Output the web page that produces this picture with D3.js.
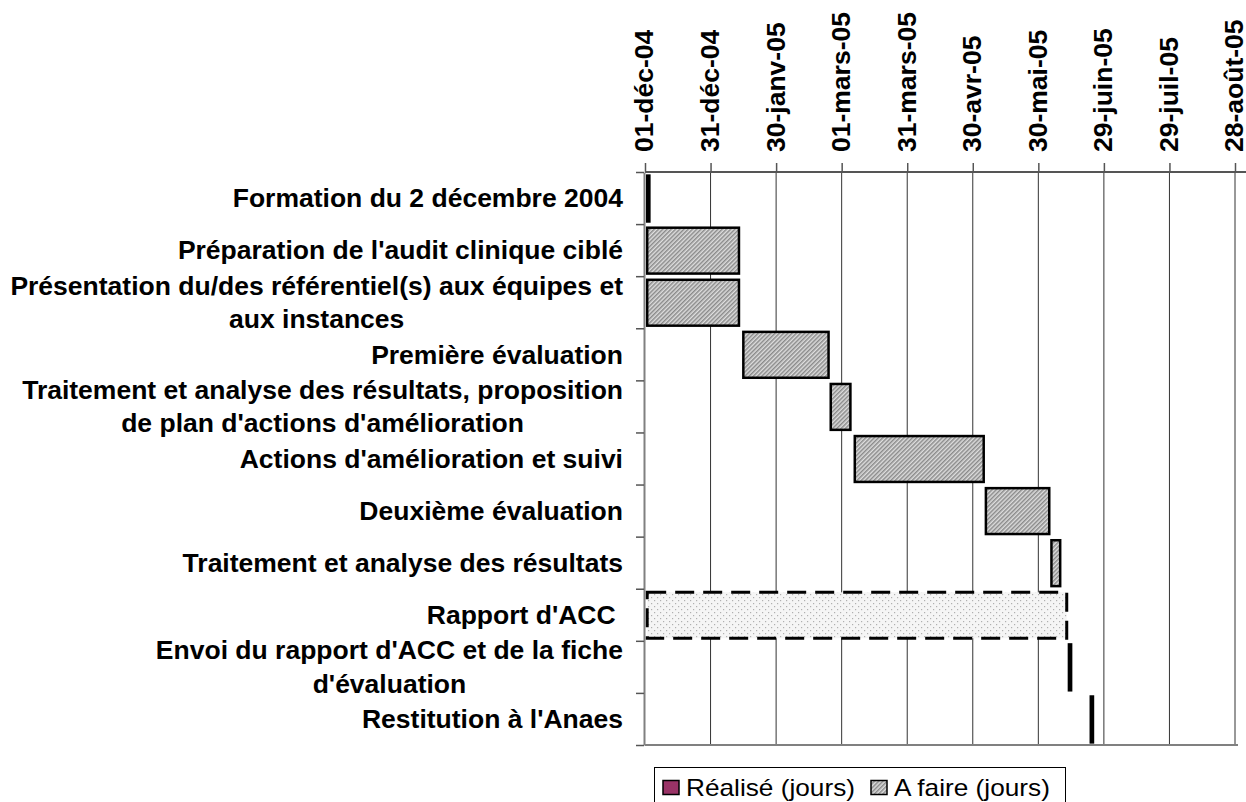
<!DOCTYPE html>
<html>
<head>
<meta charset="utf-8">
<script src="https://cdn.jsdelivr.net/npm/d3@7"></script>
<style>
  body { margin: 0; background: #fff; }
  text { font-family: "Liberation Sans", Arial, sans-serif; }
</style>
</head>
<body>
<script>
// tasks of the Gantt chart, top to bottom
const tasks = [
  "Formation du 2 décembre 2004",
  "Préparation de l'audit clinique ciblé",
  "Présentation du/des référentiel(s) aux équipes et\naux instances",
  "Première évaluation",
  "Traitement et analyse des résultats, proposition\nde plan d'actions d'amélioration",
  "Actions d'amélioration et suivi",
  "Deuxième évaluation",
  "Traitement et analyse des résultats",
  "Rapport d'ACC ",
  "Envoi du rapport d'ACC et de la fiche\nd'évaluation",
  "Restitution à l'Anaes"
];
const startDates = ["2004-12-02", "2004-12-02", "2004-12-02", "2005-01-15", "2005-02-24", "2005-03-07",
  "2005-05-06", "2005-06-05", "2004-12-02", "2005-06-13", "2005-06-23"];
const realises = [0, 0, 0, 0, 0, 0, 0, 0, 0, 0, 0];
const aFaire = [1, 42, 42, 39, 9, 59, 29, 4, 192, 1, 1];
const tickDates = ["2004-12-01", "2004-12-31", "2005-01-30", "2005-03-01", "2005-03-31",
  "2005-04-30", "2005-05-30", "2005-06-29", "2005-07-29", "2005-08-28"];
const tickLabels = ["01-déc-04", "31-déc-04", "30-janv-05", "01-mars-05", "31-mars-05",
  "30-avr-05", "30-mai-05", "29-juin-05", "29-juil-05", "28-août-05"];
const legendLabels = ["Réalisé (jours)", "A faire (jours)"];

const WIDTH = 1246, HEIGHT = 802;
const parse = d3.timeParse("%Y-%m-%d");
const day = 24 * 3600 * 1000;

const svg = d3.select("body").append("svg")
  .attr("width", WIDTH).attr("height", HEIGHT);

const defs = svg.append("defs");
const hatch = defs.append("pattern").attr("id", "hatch")
  .attr("width", 3).attr("height", 3).attr("patternUnits", "userSpaceOnUse")
  .attr("patternTransform", "rotate(45)");
hatch.append("rect").attr("width", 3).attr("height", 3).attr("fill", "#dedede");
hatch.append("line").attr("x1", 0.75).attr("x2", 0.75).attr("y1", 0).attr("y2", 3)
  .attr("stroke", "#8a8a8a").attr("stroke-width", 1.5);

const dots = defs.append("pattern").attr("id", "dots")
  .attr("width", 6).attr("height", 6).attr("patternUnits", "userSpaceOnUse");
dots.append("rect").attr("width", 6).attr("height", 6).attr("fill", "#f5f5f5");
dots.append("rect").attr("x", 0).attr("y", 0).attr("width", 1.2).attr("height", 1.2).attr("fill", "#b0b0b0");
dots.append("rect").attr("x", 3).attr("y", 3).attr("width", 1.2).attr("height", 1.2).attr("fill", "#b0b0b0");

const x = d3.scaleTime()
  .domain([parse(tickDates[0]), parse(tickDates[tickDates.length - 1])])
  .range([645, 1235]);
const y = d3.scaleBand()
  .domain(d3.range(tasks.length))
  .range([172, 745])
  .paddingInner(0.1).paddingOuter(0.05);
const yLin = d3.scaleLinear().domain([0, tasks.length]).range([172, 745]);

// vertical gridlines
svg.append("g").selectAll("line")
  .data(tickDates.slice(1))
  .enter().append("line")
  .attr("x1", d => x(parse(d))).attr("x2", d => x(parse(d)))
  .attr("y1", 172).attr("y2", 745)
  .attr("stroke", "#333").attr("stroke-width", 1);

// bottom border of plot
svg.append("line").attr("x1", 645).attr("x2", 1238).attr("y1", 745).attr("y2", 745)
  .attr("stroke", "#808080").attr("stroke-width", 2);

// bars : Réalisé then A faire, stacked from the start date
const rows = tasks.map((t, i) => {
  const s = parse(startDates[i]);
  const r = new Date(+s + realises[i] * day);
  const e = new Date(+r + aFaire[i] * day);
  return { i, s, r, e };
});

svg.append("g").selectAll("rect.real")
  .data(rows.filter(d => +d.r > +d.s))
  .enter().append("rect")
  .attr("x", d => x(d.s)).attr("width", d => x(d.r) - x(d.s))
  .attr("y", d => y(d.i)).attr("height", y.bandwidth())
  .attr("fill", "#993366").attr("stroke", "#000").attr("stroke-width", 2.5);

svg.append("g").selectAll("rect.todo")
  .data(rows)
  .enter().append("rect")
  .attr("x", d => x(d.r)).attr("width", d => x(d.e) - x(d.r))
  .attr("y", d => y(d.i) + 1).attr("height", y.bandwidth() - 1)
  .attr("fill", d => d.i === 8 ? "url(#dots)" : "url(#hatch)")
  .attr("stroke", "#000")
  .attr("stroke-width", d => d.i === 8 ? 3 : 2.5)
  .attr("stroke-dasharray", d => d.i === 8 ? "19,9" : null);

// top axis with rotated dates
const topAxis = svg.append("g").attr("transform", "translate(0,172)")
  .call(d3.axisTop(x)
    .tickValues(tickDates.map(parse))
    .tickSize(9).tickSizeOuter(0)
    .tickFormat((d, i) => tickLabels[i]));
topAxis.select(".domain").attr("stroke", "#555").attr("stroke-width", 2)
  .attr("d", "M645,0H1246");
topAxis.selectAll(".tick line").attr("stroke", "#555").attr("stroke-width", 1.5);
topAxis.selectAll(".tick text")
  .attr("x", 0).attr("y", 0).attr("dy", "0.3em")
  .attr("transform", "translate(0,-20) rotate(-90)")
  .attr("text-anchor", "start")
  .attr("font-size", 26.5).attr("font-weight", "bold").attr("fill", "#000");

// left axis: ticks between categories, no labels
const leftAxis = svg.append("g").attr("transform", "translate(644,0)")
  .call(d3.axisLeft(yLin).tickValues(d3.range(tasks.length + 1))
    .tickSize(8).tickSizeOuter(0).tickFormat(""));
leftAxis.select(".domain").attr("stroke", "#808080").attr("stroke-width", 2);
leftAxis.selectAll(".tick line").attr("stroke", "#555").attr("stroke-width", 1.5);

// category labels, right aligned block, lines centred within it
const labels = svg.append("g").selectAll("text")
  .data(tasks)
  .enter().append("text")
  .attr("y", (d, i) => y(i) + y.bandwidth() / 2)
  .attr("font-size", 26.5).attr("font-weight", "bold")
  .style("white-space", "pre");
labels.each(function (d) {
  const lines = d.split("\n");
  const t = d3.select(this);
  const first = t.append("tspan")
    .attr("x", 623).attr("text-anchor", "end")
    .attr("dy", (0.35 - (lines.length - 1) * 0.63) + "em")
    .text(lines[0]);
  if (lines.length > 1) {
    const w = first.node().getComputedTextLength();
    t.append("tspan")
      .attr("x", 623 - w / 2).attr("text-anchor", "middle")
      .attr("dy", "1.26em")
      .text(lines[1]);
  }
});

// legend
const lg = svg.append("g");
lg.append("rect").attr("x", 654.5).attr("y", 767.5).attr("width", 411).attr("height", 50)
  .attr("fill", "#fff").attr("stroke", "#000").attr("stroke-width", 1);
const legFills = ["#993366", "url(#hatch)"];
const legX = [663, 871];
legendLabels.forEach((l, i) => {
  lg.append("rect").attr("x", legX[i]).attr("y", 780.5).attr("width", 16).attr("height", 14)
    .attr("fill", legFills[i]).attr("stroke", "#000").attr("stroke-width", 1.5);
  lg.append("text")
    .attr("transform", `translate(${legX[i] + 23},796) scale(1.14,1)`)
    .attr("font-size", 23).text(l);
});
</script>
</body>
</html>
